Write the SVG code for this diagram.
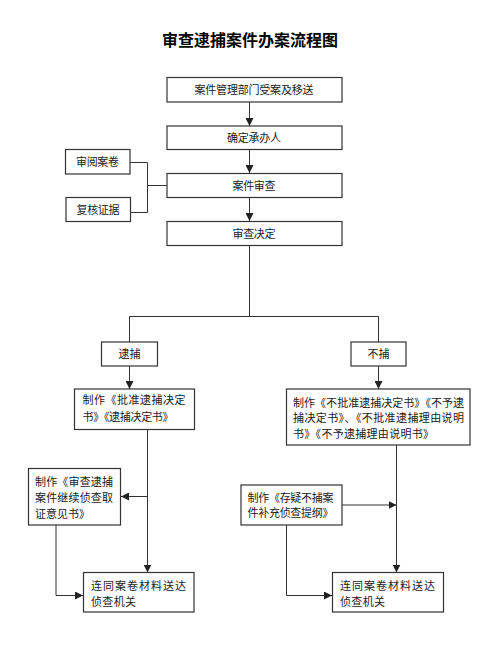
<svg xmlns="http://www.w3.org/2000/svg" width="500" height="651" viewBox="0 0 500 651">
<style>
.box{fill:#fff;stroke:#333;stroke-width:1.2}
.t{font-family:"Noto Sans CJK SC","Noto Sans",sans-serif;font-size:11px;fill:#222}
.c{text-anchor:middle}
.ln{fill:none;stroke:#333;stroke-width:1}
.title{font-family:"Noto Sans CJK SC",sans-serif;font-size:16px;font-weight:bold;fill:#000;text-anchor:middle}
</style>
<defs>
<marker id="ar" viewBox="0 0 8 8" refX="8" refY="4" markerWidth="8" markerHeight="8" markerUnits="userSpaceOnUse" orient="auto">
<path d="M0,0 L8,4 L0,8 Z" fill="#222"/>
</marker>
</defs>
<rect width="500" height="651" fill="#fff"/>
<text class="title" x="250" y="46">审查逮捕案件办案流程图</text>
<g id="connectors">
<line class="ln" x1="249.5" y1="102" x2="249.5" y2="126" marker-end="url(#ar)"/>
<line class="ln" x1="249.5" y1="149" x2="249.5" y2="173" marker-end="url(#ar)"/>
<line class="ln" x1="249.5" y1="197" x2="249.5" y2="221" marker-end="url(#ar)"/>
<polyline class="ln" points="130,162.5 147.5,162.5 147.5,212.5 131,212.5"/>
<line class="ln" x1="147.5" y1="185.5" x2="167" y2="185.5"/>
<line class="ln" x1="249.5" y1="246" x2="249.5" y2="316.5"/>
<polyline class="ln" points="129.5,342 129.5,316.5 378.5,316.5 378.5,342"/>
<line class="ln" x1="129.5" y1="366" x2="129.5" y2="389" marker-end="url(#ar)"/>
<line class="ln" x1="378.5" y1="366" x2="378.5" y2="389" marker-end="url(#ar)"/>
<line class="ln" x1="147.5" y1="429" x2="147.5" y2="572.5" marker-end="url(#ar)"/>
<line class="ln" x1="147.5" y1="496.5" x2="121" y2="496.5" marker-end="url(#ar)"/>
<polyline class="ln" points="56,525 56,595.5 83,595.5" marker-end="url(#ar)"/>
<line class="ln" x1="396.5" y1="445" x2="396.5" y2="572.5" marker-end="url(#ar)"/>
<line class="ln" x1="342" y1="505" x2="396.5" y2="505" marker-end="url(#ar)"/>
<polyline class="ln" points="286.5,525 286.5,595.5 332,595.5" marker-end="url(#ar)"/>
</g>
<g id="n1"><rect class="box" x="167" y="77.5" width="175" height="24.5"/><text class="t c" x="254" y="94" textLength="119">案件管理部门受案及移送</text></g>
<g id="n2"><rect class="box" x="167" y="126" width="175" height="23.5"/><text class="t c" x="254" y="142" textLength="54">确定承办人</text></g>
<g id="n3"><rect class="box" x="167" y="173.5" width="175" height="24"/><text class="t c" x="254" y="190" textLength="43">案件审查</text></g>
<g id="n4"><rect class="box" x="167" y="221.5" width="175" height="24"/><text class="t c" x="254" y="238" textLength="43">审查决定</text></g>
<g id="n5"><rect class="box" x="65.5" y="149.5" width="64.5" height="24.5"/><text class="t c" x="97.5" y="166" textLength="43">审阅案卷</text></g>
<g id="n6"><rect class="box" x="66" y="197.5" width="64.5" height="24"/><text class="t c" x="98" y="214" textLength="43">复核证据</text></g>
<g id="n7"><rect class="box" x="101.5" y="342" width="56" height="24"/><text class="t c" x="129.5" y="358" textLength="22">逮捕</text></g>
<g id="n8"><rect class="box" x="351" y="342" width="55" height="24"/><text class="t c" x="378.5" y="358" textLength="22">不捕</text></g>
<g id="n9"><rect class="box" x="74.5" y="389" width="120" height="40.5"/>
<text class="t" x="82.5" y="404" textLength="103">制作《批准逮捕决定</text>
<text class="t" x="82.5" y="420.5" textLength="91">书》《逮捕决定书》</text></g>
<g id="n10"><rect class="box" x="286.5" y="389" width="183.5" height="56"/>
<text class="t" x="293" y="406.5" textLength="171">制作《不批准逮捕决定书》《不予逮</text>
<text class="t" x="293" y="422" textLength="171">捕决定书》、《不批准逮捕理由说明</text>
<text class="t" x="293" y="437.5" textLength="141">书》《不予逮捕理由说明书》</text></g>
<g id="n11"><rect class="box" x="28.5" y="468.5" width="92" height="56.5"/>
<text class="t" x="35" y="485.5" textLength="78">制作《审查逮捕</text>
<text class="t" x="35" y="502" textLength="78">案件继续侦查取</text>
<text class="t" x="35" y="518" textLength="55">证意见书》</text></g>
<g id="n12"><rect class="box" x="241" y="485" width="101" height="40"/>
<text class="t" x="247.5" y="502" textLength="86">制作《存疑不捕案</text>
<text class="t" x="247.5" y="517" textLength="86">件补充侦查提纲》</text></g>
<g id="n13"><rect class="box" x="83.5" y="572.5" width="110.5" height="39.5"/>
<text class="t" x="91" y="590" textLength="95">连同案卷材料送达</text>
<text class="t" x="91" y="605.5" textLength="45">侦查机关</text></g>
<g id="n14"><rect class="box" x="332.5" y="572.5" width="111" height="39.5"/>
<text class="t" x="340" y="590" textLength="95">连同案卷材料送达</text>
<text class="t" x="340" y="605.5" textLength="45">侦查机关</text></g>
</svg>
